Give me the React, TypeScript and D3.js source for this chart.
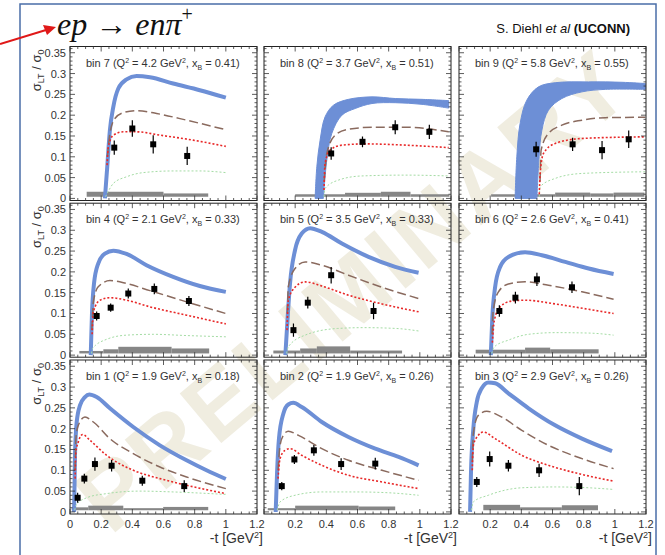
import React from 'react';
import * as d3 from 'd3';

type P = [number, number];
type E = [number, number, number];

// ---------- bin 7 ----------
const bin7Blue: P[] = [[0.224,0],[0.239,0.076],[0.256,0.164],[0.278,0.22],[0.31,0.264],[0.363,0.286],[0.427,0.294],[0.513,0.291],[0.662,0.276],[0.833,0.26],[1.0,0.242]];
const bin7Brown: P[] = [[0.24,0.1],[0.256,0.156],[0.288,0.192],[0.342,0.206],[0.427,0.211],[0.556,0.204],[0.748,0.188],[1.0,0.165]];
const bin7Red: P[] = [[0.238,0.08],[0.246,0.124],[0.278,0.152],[0.342,0.16],[0.427,0.16],[0.577,0.152],[0.79,0.14],[1.0,0.125]];
const bin7Green: P[] = [[0.228,0.004],[0.25,0.02],[0.278,0.036],[0.363,0.052],[0.47,0.062],[0.662,0.066],[0.833,0.066],[1.0,0.062]];
const bin7Pts: E[] = [[0.284,0.122,0.017],[0.40,0.168,0.02],[0.534,0.13,0.022],[0.752,0.102,0.022]];
const bin7Sys: E[] = [[0.107,0.6,0.016],[0.6,0.887,0.012]];

// ---------- bin 8 ----------
const bin8BlueHi: P[] = [[0.328,0],[0.339,0.076],[0.36,0.14],[0.392,0.196],[0.446,0.224],[0.542,0.238],[0.693,0.244],[0.842,0.24],[1.014,0.238],[1.185,0.235]];
const bin8BlueLo: P[] = [[0.381,0],[0.403,0.092],[0.435,0.156],[0.5,0.2],[0.585,0.216],[0.693,0.228],[0.842,0.23],[1.014,0.226],[1.185,0.217]];
const bin8Brown: P[] = [[0.386,0.04],[0.403,0.108],[0.457,0.152],[0.542,0.166],[0.693,0.171],[0.907,0.171],[1.185,0.16]];
const bin8Red: P[] = [[0.385,0.02],[0.392,0.084],[0.424,0.116],[0.5,0.128],[0.65,0.131],[0.907,0.128],[1.185,0.122]];
const bin8Green: P[] = [[0.385,0.004],[0.392,0.024],[0.478,0.044],[0.628,0.054],[0.907,0.056],[1.185,0.054]];
const bin8Pts: E[] = [[0.431,0.108,0.015],[0.632,0.136,0.013],[0.842,0.171,0.017],[1.061,0.16,0.017]];
const bin8Sys: E[] = [[0.2,0.52,0.010],[0.52,0.75,0.0135],[0.75,0.94,0.016],[0.94,1.19,0.010]];

// ---------- bin 9 ----------
const bin9BlueHi: P[] = [[0.36,0],[0.371,0.1],[0.392,0.18],[0.435,0.236],[0.51,0.268],[0.617,0.278],[0.832,0.28],[1.046,0.279],[1.196,0.276]];
const bin9BlueLo: P[] = [[0.5,0],[0.514,0.1],[0.532,0.164],[0.574,0.212],[0.66,0.24],[0.789,0.256],[0.939,0.262],[1.196,0.262]];
const bin9Brown: P[] = [[0.52,0.04],[0.527,0.116],[0.574,0.156],[0.66,0.176],[0.789,0.188],[0.939,0.194],[1.196,0.195]];
const bin9Red: P[] = [[0.515,0.01],[0.521,0.06],[0.542,0.108],[0.617,0.132],[0.789,0.144],[1.196,0.148]];
const bin9Green: P[] = [[0.515,0.004],[0.521,0.028],[0.617,0.048],[0.789,0.06],[1.196,0.064]];
const bin9Pts: E[] = [[0.495,0.118,0.018],[0.729,0.13,0.016],[0.918,0.116,0.022],[1.089,0.142,0.021]];
const bin9Sys: E[] = [[0.206,0.617,0.010],[0.617,0.842,0.014],[0.842,0.992,0.012],[0.992,1.19,0.014]];

// ---------- bin 4 ----------
const bin4Blue: P[] = [[0.133,0],[0.141,0.1],[0.154,0.172],[0.181,0.22],[0.224,0.244],[0.278,0.251],[0.363,0.243],[0.491,0.216],[0.662,0.188],[0.833,0.166],[1.0,0.152]];
const bin4Brown: P[] = [[0.14,0.06],[0.15,0.128],[0.181,0.164],[0.256,0.179],[0.363,0.172],[0.513,0.155],[0.748,0.128],[1.0,0.1]];
const bin4Red: P[] = [[0.142,0.05],[0.15,0.104],[0.192,0.132],[0.256,0.138],[0.363,0.132],[0.513,0.116],[0.748,0.096],[1.0,0.075]];
const bin4Green: P[] = [[0.138,0.004],[0.145,0.016],[0.235,0.038],[0.363,0.048],[0.534,0.05],[0.748,0.047],[1.0,0.044]];
const bin4Pts: E[] = [[0.171,0.094,0.011],[0.261,0.114,0.01],[0.374,0.148,0.012],[0.541,0.159,0.013],[0.763,0.13,0.012]];
const bin4Sys: E[] = [[0.06,0.214,0.010],[0.214,0.31,0.014],[0.31,0.652,0.02],[0.652,0.893,0.016]];

// ---------- bin 5 ----------
const bin5Blue: P[] = [[0.137,0],[0.152,0.092],[0.167,0.172],[0.199,0.252],[0.242,0.292],[0.296,0.305],[0.371,0.296],[0.5,0.268],[0.671,0.236],[0.842,0.212],[0.992,0.198]];
const bin5Brown: P[] = [[0.15,0.1],[0.156,0.164],[0.199,0.208],[0.264,0.224],[0.371,0.216],[0.542,0.192],[0.757,0.163],[0.992,0.136]];
const bin5Red: P[] = [[0.148,0.06],[0.156,0.132],[0.199,0.163],[0.264,0.176],[0.371,0.166],[0.542,0.144],[0.757,0.123],[0.992,0.104]];
const bin5Green: P[] = [[0.145,0.004],[0.156,0.02],[0.264,0.048],[0.471,0.064],[0.642,0.066],[0.85,0.064],[0.992,0.058]];
const bin5Pts: E[] = [[0.189,0.06,0.016],[0.281,0.126,0.014],[0.431,0.192,0.02],[0.703,0.106,0.02]];
const bin5Sys: E[] = [[0.06,0.232,0.011],[0.232,0.339,0.016],[0.339,0.553,0.021],[0.553,0.886,0.011]];

// ---------- bin 6 ----------
const bin6Blue: P[] = [[0.204,0],[0.214,0.092],[0.232,0.164],[0.264,0.212],[0.317,0.236],[0.424,0.247],[0.532,0.24],[0.682,0.224],[0.832,0.208],[0.992,0.195]];
const bin6Brown: P[] = [[0.212,0.05],[0.22,0.108],[0.253,0.152],[0.317,0.171],[0.424,0.176],[0.574,0.168],[0.789,0.152],[0.992,0.134]];
const bin6Red: P[] = [[0.214,0.03],[0.227,0.084],[0.264,0.116],[0.339,0.13],[0.424,0.132],[0.617,0.123],[0.832,0.11],[0.992,0.1]];
const bin6Green: P[] = [[0.21,0.004],[0.227,0.02],[0.317,0.036],[0.446,0.05],[0.617,0.054],[0.832,0.053],[0.992,0.048]];
const bin6Pts: E[] = [[0.259,0.106,0.014],[0.362,0.138,0.014],[0.5,0.182,0.016],[0.725,0.163,0.014]];
const bin6Sys: E[] = [[0.107,0.424,0.013],[0.424,0.585,0.018],[0.585,0.896,0.014]];

// ---------- bin 1 ----------
const bin1Blue: P[] = [[0.026,0],[0.029,0.06],[0.032,0.136],[0.043,0.216],[0.064,0.256],[0.096,0.276],[0.124,0.282],[0.171,0.276],[0.256,0.249],[0.406,0.204],[0.577,0.16],[0.748,0.124],[0.876,0.1],[1.0,0.079]];
const bin1Brown: P[] = [[0.032,0.1],[0.038,0.176],[0.053,0.208],[0.096,0.228],[0.15,0.216],[0.256,0.176],[0.406,0.14],[0.577,0.108],[0.748,0.084],[1.0,0.056]];
const bin1Red: P[] = [[0.033,0.08],[0.038,0.144],[0.053,0.168],[0.081,0.186],[0.128,0.172],[0.235,0.136],[0.406,0.1],[0.577,0.08],[0.748,0.064],[1.0,0.044]];
const bin1Green: P[] = [[0.03,0.004],[0.038,0.016],[0.107,0.034],[0.235,0.044],[0.449,0.05],[0.662,0.048],[1.0,0.042]];
const bin1Pts: E[] = [[0.049,0.034,0.012],[0.092,0.08,0.012],[0.16,0.115,0.016],[0.267,0.111,0.014],[0.464,0.075,0.012],[0.733,0.062,0.014]];
const bin1Sys: E[] = [[0.011,0.117,0.011],[0.117,0.342,0.015],[0.342,0.598,0.009],[0.598,0.887,0.012]];

// ---------- bin 2 ----------
const bin2Blue: P[] = [[0.075,0],[0.084,0.096],[0.096,0.176],[0.124,0.236],[0.156,0.258],[0.188,0.262],[0.242,0.252],[0.371,0.216],[0.542,0.18],[0.714,0.152],[0.864,0.132],[0.992,0.112]];
const bin2Brown: P[] = [[0.09,0.1],[0.103,0.16],[0.124,0.184],[0.156,0.194],[0.221,0.184],[0.371,0.152],[0.542,0.124],[0.757,0.1],[0.992,0.076]];
const bin2Red: P[] = [[0.09,0.08],[0.103,0.128],[0.135,0.148],[0.167,0.152],[0.242,0.136],[0.371,0.112],[0.542,0.088],[0.757,0.072],[0.992,0.056]];
const bin2Green: P[] = [[0.085,0.004],[0.103,0.024],[0.199,0.04],[0.371,0.048],[0.585,0.048],[0.8,0.046],[0.992,0.04]];
const bin2Pts: E[] = [[0.114,0.062,0.01],[0.195,0.126,0.011],[0.32,0.148,0.013],[0.495,0.115,0.014],[0.714,0.116,0.014]];
const bin2Sys: E[] = [[0.024,0.2,0.009],[0.2,0.607,0.015],[0.607,0.842,0.013]];

// ---------- bin 3 ----------
const bin3Blue: P[] = [[0.071,0],[0.077,0.096],[0.092,0.2],[0.114,0.264],[0.146,0.297],[0.188,0.311],[0.232,0.309],[0.317,0.285],[0.446,0.249],[0.617,0.208],[0.789,0.176],[0.982,0.146]];
const bin3Brown: P[] = [[0.085,0.12],[0.092,0.188],[0.124,0.232],[0.178,0.242],[0.253,0.232],[0.403,0.196],[0.574,0.16],[0.789,0.128],[0.992,0.104]];
const bin3Red: P[] = [[0.085,0.1],[0.092,0.16],[0.124,0.184],[0.156,0.192],[0.232,0.176],[0.403,0.136],[0.574,0.112],[0.789,0.09],[0.992,0.074]];
const bin3Green: P[] = [[0.08,0.004],[0.092,0.024],[0.188,0.04],[0.403,0.058],[0.617,0.06],[0.832,0.058],[0.992,0.054]];
const bin3Pts: E[] = [[0.114,0.072,0.012],[0.197,0.127,0.018],[0.317,0.111,0.014],[0.514,0.1,0.016],[0.772,0.062,0.022]];
const bin3Sys: E[] = [[0.156,0.392,0.017],[0.392,0.66,0.011],[0.66,0.892,0.016]];

// ---------- panel labels & axes ----------
const panelBins = ['7', '8', '9', '4', '5', '6', '1', '2', '3'];
const panelQ2 = ['4.2', '3.7', '5.8', '2.1', '3.5', '2.6', '1.9', '1.9', '2.9'];
const panelXB = ['0.41', '0.51', '0.55', '0.33', '0.33', '0.41', '0.18', '0.26', '0.26'];
const xTicks = [0, 0.2, 0.4, 0.6, 0.8, 1, 1.2];
const xTickLabels = ['0', '0.2', '0.4', '0.6', '0.8', '1', '1.2'];
const yTicks = [0, 0.05, 0.1, 0.15, 0.2, 0.25, 0.3, 0.35];
const yTickLabels = ['0', '0.05', '0.1', '0.15', '0.2', '0.25', '0.3', '0.35'];
const xMinor = d3.range(0, 1.2001, 0.05);
const yMinor = d3.range(0, 0.3601, 0.01);

const panels = [
  { blue: bin7Blue, lo: null, brown: bin7Brown, red: bin7Red, green: bin7Green, pts: bin7Pts, sys: bin7Sys },
  { blue: bin8BlueHi, lo: bin8BlueLo, brown: bin8Brown, red: bin8Red, green: bin8Green, pts: bin8Pts, sys: bin8Sys },
  { blue: bin9BlueHi, lo: bin9BlueLo, brown: bin9Brown, red: bin9Red, green: bin9Green, pts: bin9Pts, sys: bin9Sys },
  { blue: bin4Blue, lo: null, brown: bin4Brown, red: bin4Red, green: bin4Green, pts: bin4Pts, sys: bin4Sys },
  { blue: bin5Blue, lo: null, brown: bin5Brown, red: bin5Red, green: bin5Green, pts: bin5Pts, sys: bin5Sys },
  { blue: bin6Blue, lo: null, brown: bin6Brown, red: bin6Red, green: bin6Green, pts: bin6Pts, sys: bin6Sys },
  { blue: bin1Blue, lo: null, brown: bin1Brown, red: bin1Red, green: bin1Green, pts: bin1Pts, sys: bin1Sys },
  { blue: bin2Blue, lo: null, brown: bin2Brown, red: bin2Red, green: bin2Green, pts: bin2Pts, sys: bin2Sys },
  { blue: bin3Blue, lo: null, brown: bin3Brown, red: bin3Red, green: bin3Green, pts: bin3Pts, sys: bin3Sys },
];

// ---------- layout ----------
const W = 665, H = 555;
const COL_X = [70, 264, 459];
const ROW_Y = [46.5, 203.2, 360];
const PW = 187, PH = 154;
const SANS = "'Liberation Sans', Arial, Helvetica, sans-serif";
const TXT = '#333';
const BLUE = '#6d8fd6';

function Panel({ idx }: { idx: number }) {
  const p = panels[idx];
  const col = idx % 3, row = Math.floor(idx / 3);
  const left = COL_X[col], top = ROW_Y[row];
  const x = d3.scaleLinear().domain([0, 1.2]).range([left, left + PW]);
  const y = d3.scaleLinear().domain([-0.005, 0.365]).range([top + PH, top]);
  const line = d3.line<P>().x(d => x(d[0])).y(d => y(d[1])).curve(d3.curveMonotoneX);
  const lineC = d3.line<P>().x(d => x(d[0])).y(d => y(d[1])).curve(d3.curveCatmullRom.alpha(0.5));
  let bandPath = '';
  if (p.lo) {
    const a = lineC(p.blue) || '';
    const b = lineC([...p.lo].reverse()) || '';
    bandPath = a + 'L' + b.slice(1) + 'Z';
  }
  const clipId = 'clip' + idx;
  const bottom = top + PH;
  const right = left + PW;
  return (
    <g>
      <defs>
        <clipPath id={clipId}>
          <rect x={left} y={top} width={PW} height={PH} />
        </clipPath>
      </defs>
      <g clipPath={`url(#${clipId})`}>
        {p.sys.map((s, i) => (
          <rect key={'s' + i} x={x(s[0])} y={y(s[2])} width={x(s[1]) - x(s[0])} height={y(0.004) - y(s[2])} fill="#868686" />
        ))}
        {p.lo ? (
          <path d={bandPath} fill={BLUE} stroke={BLUE} strokeWidth={1} />
        ) : (
          <path d={line(p.blue) || ''} fill="none" stroke={BLUE} strokeWidth={4} strokeLinejoin="round" />
        )}
        <path d={line(p.green) || ''} fill="none" stroke="#a4dca4" strokeWidth={1} strokeDasharray="2,2" />
        <path d={line(p.brown) || ''} fill="none" stroke="#8a6a5e" strokeWidth={1.5} strokeDasharray="9,4" />
        <path d={line(p.red) || ''} fill="none" stroke="#e82828" strokeWidth={1.6} strokeDasharray="2,2" />
        {p.pts.map((d, i) => (
          <g key={'p' + i}>
            <line x1={x(d[0])} x2={x(d[0])} y1={y(d[1] - d[2])} y2={y(d[1] + d[2])} stroke="#000" strokeWidth={1.2} />
            <rect x={x(d[0]) - 3} y={y(d[1]) - 3} width={6} height={6} fill="#000" />
          </g>
        ))}
      </g>
      {/* frame */}
      <rect x={left} y={top} width={PW} height={PH} fill="none" stroke="#222" strokeWidth={1} />
      {/* ticks */}
      {xMinor.map((t, i) => {
        const major = Math.abs(t / 0.2 - Math.round(t / 0.2)) < 1e-6;
        const L = major ? 5 : 2.5;
        return (
          <g key={'xm' + i} stroke="#333" strokeWidth={0.8}>
            <line x1={x(t)} x2={x(t)} y1={bottom} y2={bottom - L} />
            <line x1={x(t)} x2={x(t)} y1={top} y2={top + L} />
          </g>
        );
      })}
      {yMinor.map((t, i) => {
        const major = Math.abs(t / 0.05 - Math.round(t / 0.05)) < 1e-6;
        const L = major ? 5 : 2.5;
        return (
          <g key={'ym' + i} stroke="#333" strokeWidth={0.8}>
            <line x1={left} x2={left + L} y1={y(t)} y2={y(t)} />
            <line x1={right} x2={right - L} y1={y(t)} y2={y(t)} />
          </g>
        );
      })}
      {/* y labels */}
      {col === 0 && yTicks.map((t, i) => (
        <text key={'yl' + i} x={left - 4} y={y(t) + 4} textAnchor="end" fontSize={11} fill={TXT} fontFamily={SANS}>{yTickLabels[i]}</text>
      ))}
      {col === 0 && (
        <text transform={`translate(41,${top + 3}) rotate(-90)`} textAnchor="end" fontSize={13} fill={TXT} fontFamily={SANS}>
          σ<tspan dy={3} fontSize={9}>LT</tspan><tspan dy={-3}> / σ</tspan><tspan dy={3} fontSize={9}>0</tspan>
        </text>
      )}
      {/* x labels */}
      {row === 2 && xTicks.map((t, i) => (
        (col === 0 || i > 0) ? (
          <text key={'xl' + i} x={x(t)} y={bottom + 14} textAnchor="middle" fontSize={11} fill={TXT} fontFamily={SANS}>{xTickLabels[i]}</text>
        ) : null
      ))}
      {row === 2 && (
        <text x={right + 6} y={bottom + 29} textAnchor="end" fontSize={14} fill={TXT} fontFamily={SANS}>
          -t [GeV<tspan dy={-5} fontSize={9}>2</tspan><tspan dy={5}>]</tspan>
        </text>
      )}
      {/* bin label */}
      <text x={left + 16} y={top + 20} fontSize={11} fill={TXT} fontFamily={SANS}>
        {'bin ' + panelBins[idx] + ' (Q'}
        <tspan dy={-4} fontSize={7}>2</tspan>
        <tspan dy={4}>{' = ' + panelQ2[idx] + ' GeV'}</tspan>
        <tspan dy={-4} fontSize={7}>2</tspan>
        <tspan dy={4}>{', x'}</tspan>
        <tspan dy={3} fontSize={7}>B</tspan>
        <tspan dy={-3}>{' = ' + panelXB[idx] + ')'}</tspan>
      </text>
    </g>
  );
}

export default function App() {
  return (
    <svg width={W} height={H} style={{ position: 'absolute', left: 0, top: 0, background: '#fff' }}>
      <rect x={0} y={0} width={W} height={H} fill="#fff" />
      {/* slide frame */}
      <rect x={20} y={4} width={636} height={570} fill="none" stroke="#4a6ea8" strokeWidth={1.5} />
      {/* watermark */}
      <g transform="translate(358,296) rotate(-40)">
        <text x={0} y={0} textAnchor="middle" dominantBaseline="middle"
          fontSize={94} fontWeight="bold" fontFamily={SANS} fill="#d8d0b0" opacity={0.38} letterSpacing={4}>
          PRELIMINARY
        </text>
      </g>
      {panels.map((_, i) => <Panel key={i} idx={i} />)}
      {/* title */}
      <text x={57} y={35} fontSize={32} fontFamily="'Liberation Serif', 'DejaVu Serif', serif" fill="#111">
        <tspan fontStyle="italic">ep</tspan>
        <tspan> → </tspan>
        <tspan fontStyle="italic">enπ</tspan>
        <tspan dy={-14} fontSize={20}>+</tspan>
      </text>
      <text x={630} y={33} textAnchor="end" fontSize={13} fontFamily={SANS} fill="#111">
        S. Diehl <tspan fontStyle="italic">et al</tspan> <tspan fontWeight="bold">(UCONN)</tspan>
      </text>
      {/* red arrow */}
      <line x1={0} y1={44} x2={46} y2={30} stroke="#e01818" strokeWidth={2} />
      <path d="M56,27 L43,25 L47,35 Z" fill="#e01818" />
    </svg>
  );
}
